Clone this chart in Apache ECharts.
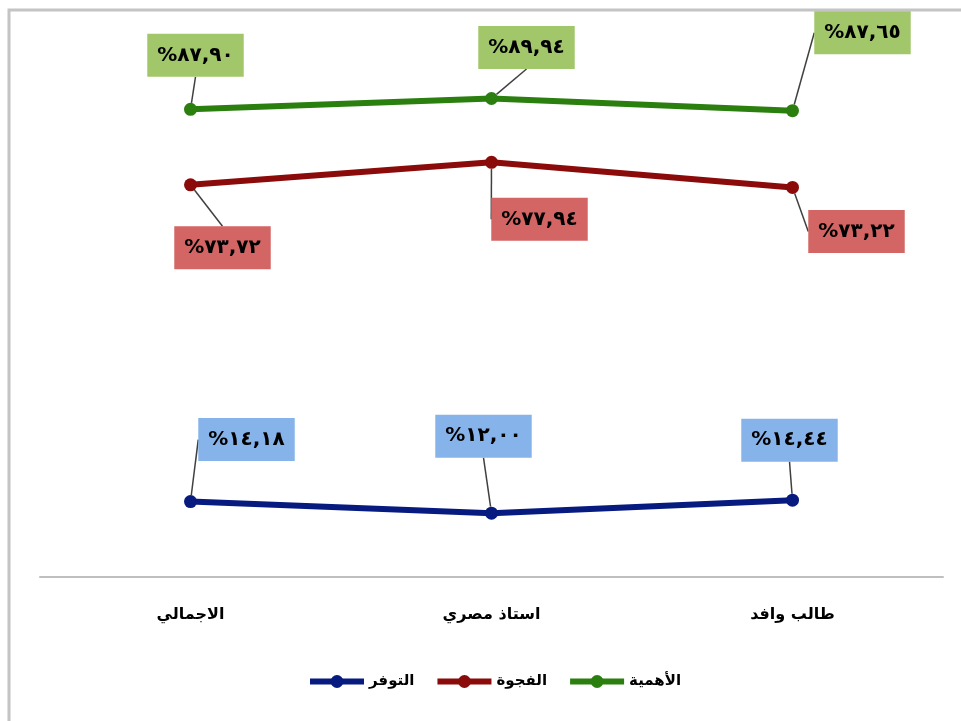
<!DOCTYPE html>
<html>
<head>
<meta charset="utf-8">
<script src="https://cdn.jsdelivr.net/npm/echarts@6/dist/echarts.min.js"></script>
<style>
  html, body { margin: 0; padding: 0; background: #ffffff; }
  #chart { width: 961px; height: 721px; }
</style>
</head>
<body>
<div id="chart"></div>
<script>
// Categories along the horizontal axis
const categories = ['الاجمالي', 'استاذ مصري', 'طالب وافد'];

// Series names (legend order)
const seriesNames = ['التوفر', 'الفجوة', 'الأهمية'];

// Percentages per category
const availability = [14.18, 12.00, 14.44];   // التوفر
const gap = [73.72, 77.94, 73.22];            // الفجوة
const importance = [87.90, 89.94, 87.65];     // الأهمية

// Label offsets (px) from each point to its callout box
const availOffsets = [[56, -62], [-8, -77], [-3, -60]];
const gapOffsets = [[32, 63], [48, 57], [64, 44]];
const impOffsets = [[5, -54], [35, -51], [70, -78]];

const arabicDigits = ['٠', '١', '٢', '٣', '٤', '٥', '٦', '٧', '٨', '٩'];
function toArabicPercent(v) {
  const s = v.toFixed(2).replace('.', ',');
  return '%' + s.replace(/[0-9]/g, d => arabicDigits[+d]);
}

function makeSeries(name, data, lineColor, boxColor, offsets) {
  return {
    name: name,
    type: 'line',
    data: data,
    symbol: 'circle',
    symbolSize: 13,
    lineStyle: { color: lineColor, width: 6 },
    itemStyle: { color: lineColor },
    label: {
      show: true,
      position: 'inside',
      formatter: p => toArabicPercent(p.value),
      fontFamily: 'DejaVu Sans',
      fontWeight: 'bold',
      fontSize: 20,
      color: '#000000',
      backgroundColor: boxColor,
      padding: [12, 10, 11, 10]
    },
    labelLine: {
      show: true,
      lineStyle: { color: '#404040', width: 1.5 }
    },
    labelLayout: params => ({
      dx: offsets[params.dataIndex][0],
      dy: offsets[params.dataIndex][1],
      hideOverlap: false
    }),
    emphasis: { disabled: true },
    z: 3
  };
}

const chart = echarts.init(document.getElementById('chart'));
chart.setOption({
  animation: false,
  backgroundColor: '#ffffff',
  graphic: [{
    type: 'rect',
    shape: { x: 9, y: 10, width: 980, height: 740 },
    style: { fill: 'none', stroke: '#c4c4c4', lineWidth: 3 },
    silent: true,
    z: -10
  }],
  grid: { left: 40, right: 18, top: 45, bottom: 144 },
  xAxis: {
    type: 'category',
    data: categories,
    boundaryGap: true,
    axisLine: { lineStyle: { color: '#bfbfbf', width: 2 } },
    axisTick: { show: false },
    axisLabel: {
      margin: 30,
      fontFamily: 'DejaVu Sans',
      fontWeight: 'bold',
      fontSize: 16,
      color: '#000000'
    }
  },
  yAxis: {
    type: 'value',
    min: 0,
    max: 100,
    show: false,
    splitLine: { show: false }
  },
  legend: {
    data: seriesNames,
    bottom: 27,
    left: 302,
    itemWidth: 54,
    itemHeight: 16,
    itemGap: 20,
    lineStyle: { width: 6 },
    textStyle: {
      fontFamily: 'DejaVu Sans',
      fontWeight: 'bold',
      fontSize: 15,
      color: '#000000'
    }
  },
  series: [
    makeSeries(seriesNames[0], availability, '#061a80', '#86b4ea', availOffsets),
    makeSeries(seriesNames[1], gap, '#8b0a0a', '#d46565', gapOffsets),
    makeSeries(seriesNames[2], importance, '#2a7f0e', '#a2c66a', impOffsets)
  ]
});
</script>
</body>
</html>
